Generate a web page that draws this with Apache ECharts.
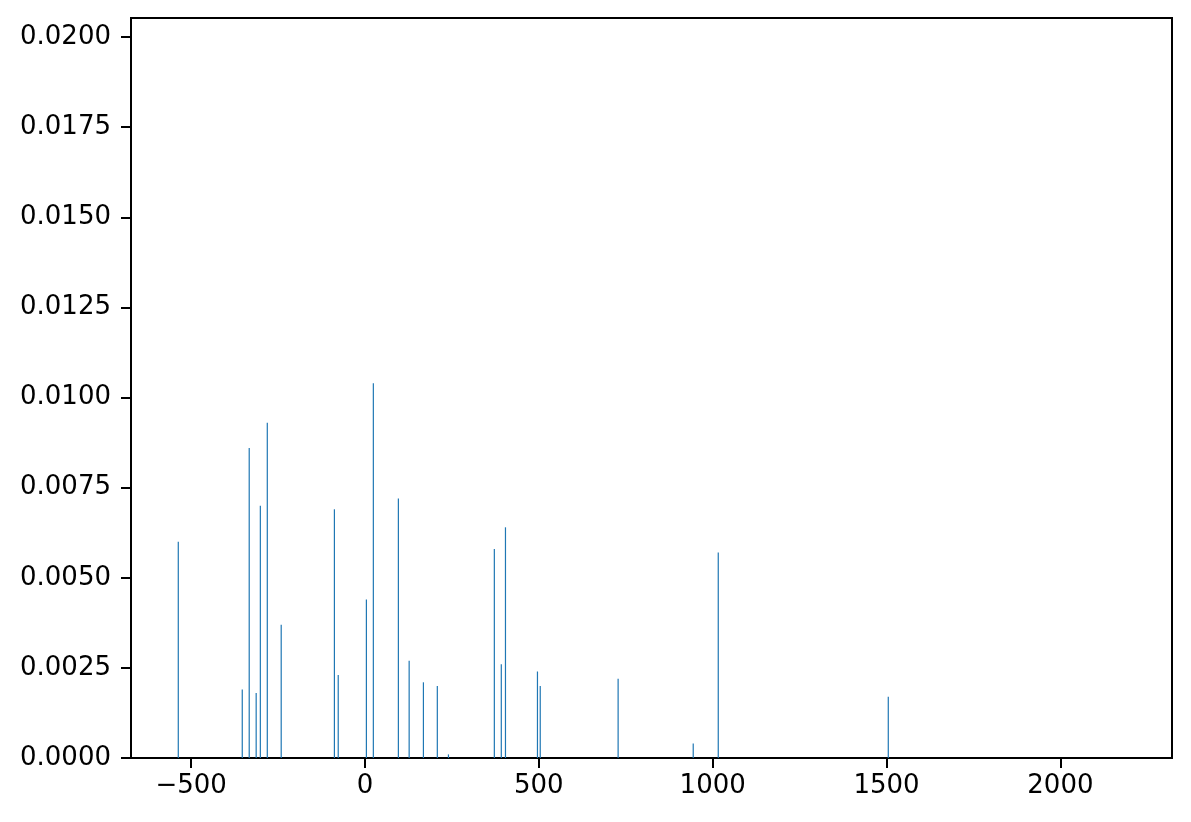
<!DOCTYPE html>
<html>
<head>
<meta charset="utf-8">
<script src="https://cdn.jsdelivr.net/npm/echarts@6/dist/echarts.min.js"></script>
<style>
  html, body { margin: 0; padding: 0; background: #fff; }
  #chart { width: 1191px; height: 822px; }
</style>
</head>
<body>
<div id="chart"></div>
<script>
  // bar positions (x) and heights (y)
  var xs = [-537, -353, -333, -313, -301, -281, -241, -88, -77, 4, 24, 96, 127, 168, 208, 240,
            372, 392, 404, 496, 504, 728, 944, 1016, 1505];
  var heights = [0.0060, 0.0019, 0.0086, 0.0018, 0.0070, 0.0093, 0.0037, 0.0069, 0.0023, 0.0044, 0.0104, 0.0072, 0.0027, 0.0021, 0.0020, 0.0001,
                 0.0058, 0.0026, 0.0064, 0.0024, 0.0020, 0.0022, 0.0004, 0.0057, 0.0017];
  var xTicks = [-500, 0, 500, 1000, 1500, 2000];
  var yTicks = [0, 0.0025, 0.005, 0.0075, 0.01, 0.0125, 0.015, 0.0175, 0.02];

  var barData = xs.map(function (x, i) { return [x, heights[i]]; });

  var font = 'DejaVu Sans';
  var chart = echarts.init(document.getElementById('chart'));
  chart.setOption({
    animation: false,
    grid: {
      left: 131, right: 19, top: 18, bottom: 64,
      show: true,
      borderColor: '#000',
      borderWidth: 2
    },
    xAxis: {
      type: 'value',
      min: -673,
      max: 2321,
      splitLine: { show: false },
      axisLine: { show: true, onZero: false, lineStyle: { color: '#000', width: 2 } },
      axisTick: { show: true, customValues: xTicks, length: 10, lineStyle: { color: '#000', width: 2 } },
      axisLabel: {
        customValues: xTicks,
        color: '#000', fontFamily: font, fontSize: 26, margin: 15,
        formatter: function (v) { return String(v).replace('-', '\u2212'); }
      }
    },
    yAxis: {
      type: 'value',
      min: 0,
      max: 0.02053,
      splitLine: { show: false },
      axisLine: { show: true, onZero: false, lineStyle: { color: '#000', width: 2 } },
      axisTick: { show: true, customValues: yTicks, length: 10, lineStyle: { color: '#000', width: 2 } },
      axisLabel: {
        customValues: yTicks,
        color: '#000', fontFamily: font, fontSize: 26, margin: 20,
        formatter: function (v) { return v.toFixed(4); }
      }
    },
    series: [{
      type: 'bar',
      data: barData,
      barWidth: 1.2,
      itemStyle: { color: '#1f77b4' }
    }]
  });
</script>
</body>
</html>
